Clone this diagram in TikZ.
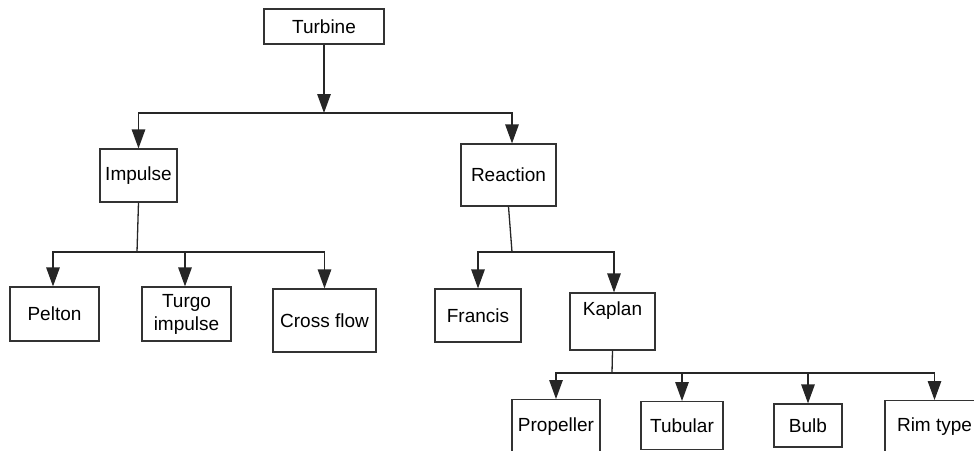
\documentclass[tikz,border=0pt]{standalone}
\usepackage{fontspec}
\setmainfont{Liberation Sans}
\usetikzlibrary{arrows.meta}
\begin{document}
\begin{tikzpicture}[x=1pt,y=-1pt,
  box/.style={draw=black!80, line width=1.2pt, fill=white, inner sep=0pt,
    font=\fontsize{19}{23}\selectfont, align=center},
  link/.style={draw=black!85, line width=1.3pt},
  arr/.style={link, -{Triangle[length=19pt,width=13.5pt]}}]
\useasboundingbox (0,0) rectangle (974,450);
\clip (0,0) rectangle (974,450);

% top level
\node[box, minimum width=120pt, minimum height=35pt] (turbine) at (324,26.5) {Turbine};

% second level
\node[box, minimum width=77pt, minimum height=53pt] (impulse) at (138.5,175.5) {Impulse};
\node[box, minimum width=95pt, minimum height=62pt] (reaction) at (508.5,175) {Reaction};

% impulse types
\node[box, minimum width=89pt, minimum height=54pt] (pelton) at (54.5,314) {Pelton};
\node[box, minimum width=89pt, minimum height=54pt] (turgo) at (186.5,314) {Turgo\\impulse};
\node[box, minimum width=103pt, minimum height=63pt] (cross) at (324.5,320.5) {Cross flow};

% reaction types
\node[box, minimum width=86pt, minimum height=53pt] (francis) at (478,315.5) {Francis};
\node[box, minimum width=85pt, minimum height=57pt, text depth=25pt] (kaplan) at (612.5,321.5) {Kaplan};

% kaplan variants
\node[box, anchor=north, minimum width=88pt, minimum height=54pt] (propeller) at (556,399) {Propeller};
\node[box, anchor=north, minimum width=82pt, minimum height=48pt] (tubular) at (682,401) {Tubular};
\node[box, minimum width=68pt, minimum height=43pt] (bulb) at (808,425.5) {Bulb};
\node[box, anchor=north, minimum width=99pt, minimum height=52pt] (rim) at (934.5,400) {Rim type};

% junction points
\coordinate (j0) at (324,113);
\coordinate (j1) at (137,252);
\coordinate (j2) at (512,252);
\coordinate (j3) at (612,373);

% connectors
\draw[arr] (turbine) -- (j0);
\draw[arr] (j0) -| (impulse);
\draw[arr] (j0) -| ([xshift=3.5pt]reaction.north);

\draw[link] (impulse.south) -- (j1);
\draw[arr] (j1) -| ([xshift=-1.5pt]pelton.north);
\draw[arr] (j1) -| ([xshift=-1.5pt]turgo.north);
\draw[arr] (j1) -| (cross);

\draw[link] (reaction.south) -- (j2);
\draw[arr] (j2) -| (francis);
\draw[arr] (j2) -| ([xshift=1.5pt]kaplan.north);

\draw[link] (kaplan.south) -- (j3);
\draw[arr] (j3) -| (propeller);
\draw[arr] (j3) -| (tubular);
\draw[arr] (j3) -| (bulb);
\draw[arr] (j3) -| (rim);
\end{tikzpicture}
\end{document}
